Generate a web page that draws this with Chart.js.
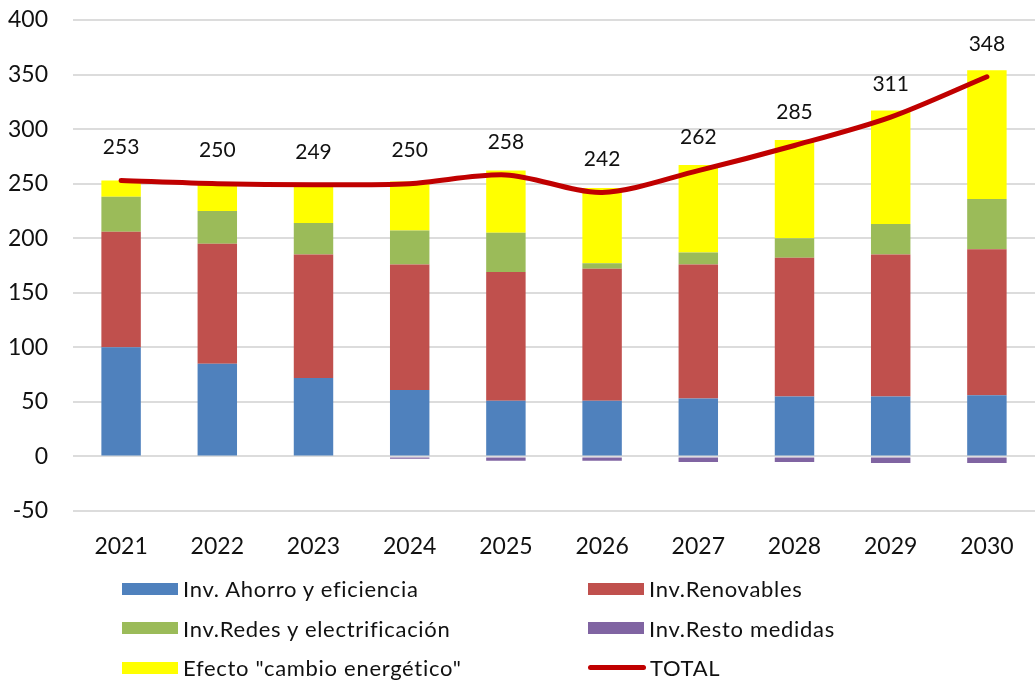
<!DOCTYPE html>
<html>
<head>
<meta charset="utf-8">
<script src="https://cdn.jsdelivr.net/npm/chart.js@4/dist/chart.umd.min.js"></script>
<style>
  html, body { margin: 0; padding: 0; background: #ffffff; }
  #wrap { position: relative; width: 1035px; height: 682px; overflow: hidden; }
  #c { position: absolute; left: 0; top: 0; }
  #legend { position: absolute; left: 122px; top: 569px; width: 900px;
    display: grid; grid-template-columns: 466px 400px;
    font-family: Lato, "Liberation Sans", sans-serif; font-size: 22px; letter-spacing: 0.7px; color: #111; }
  .item { display: flex; align-items: center; height: 39.5px; }
  .sw { width: 56px; height: 12px; margin-right: 5px; flex: none; }
  .ln { width: 58px; height: 5px; border-radius: 3px; margin-right: 4px; flex: none; }
</style>
</head>
<body>
<div id="wrap">
  <canvas id="c" width="1035" height="570"></canvas>
  <div id="legend"></div>
</div>
<script>
const years = ["2021","2022","2023","2024","2025","2026","2027","2028","2029","2030"];
const ahorro   = [100, 85, 72, 61, 51, 51, 53, 55, 55, 56];
const renov    = [106, 110, 113, 115, 118, 121, 123, 127, 130, 134];
const redes    = [32, 30, 29, 31, 36, 5, 11, 18, 28, 46];
const resto    = [0, 0, 0, -2, -4, -4, -5, -5, -6, -6];
const efecto   = [15, 25, 35, 45, 57, 69, 80, 90, 104, 118];
const total    = [253, 250, 249, 250, 258, 242, 262, 285, 311, 348];
const yTicks   = { min: -50, max: 400, step: 50 };

const seriesNames = ["Inv. Ahorro y eficiencia", "Inv.Renovables", "Inv.Redes y electrificación", "Inv.Resto medidas", "Efecto \"cambio energético\"", "TOTAL"];
const colors = ["#4F81BD", "#C0504D", "#9BBB59", "#8064A2", "#FFFF00", "#C00000"];

const barCommon = { type: 'bar', stack: 's', order: 1, barPercentage: 0.41, categoryPercentage: 1.0, borderWidth: 0 };

const datasets = [
  Object.assign({ label: seriesNames[0], data: ahorro, backgroundColor: colors[0] }, barCommon),
  Object.assign({ label: seriesNames[1], data: renov, backgroundColor: colors[1] }, barCommon),
  Object.assign({ label: seriesNames[2], data: redes, backgroundColor: colors[2] }, barCommon),
  Object.assign({ label: seriesNames[3], data: resto, backgroundColor: colors[3] }, barCommon),
  Object.assign({ label: seriesNames[4], data: efecto, backgroundColor: colors[4] }, barCommon),
  { type: 'line', label: seriesNames[5], data: total, borderColor: colors[5], backgroundColor: colors[5],
    borderWidth: 5, pointRadius: 0, tension: 0.3, order: 0, borderCapStyle: 'round', borderJoinStyle: 'round' }
];

const FONT = 'Lato, "Liberation Sans", sans-serif';

const totalLabels = {
  id: 'totalLabels',
  afterDatasetsDraw(chart) {
    const ctx = chart.ctx;
    const idx = chart.data.datasets.length - 1;
    const meta = chart.getDatasetMeta(idx);
    ctx.save();
    ctx.font = '21px ' + FONT;
    ctx.fillStyle = '#111';
    ctx.textAlign = 'center';
    ctx.textBaseline = 'middle';
    meta.data.forEach((pt, i) => {
      ctx.fillText(String(chart.data.datasets[idx].data[i]), pt.x, pt.y - 33);
    });
    ctx.restore();
  }
};

new Chart(document.getElementById('c'), {
  data: { labels: years, datasets: datasets },
  options: {
    responsive: false,
    animation: false,
    layout: { padding: { left: 0, right: 0, top: 20, bottom: 0 } },
    plugins: { legend: { display: false }, tooltip: { enabled: false } },
    scales: {
      x: {
        stacked: true,
        grid: { display: false, drawTicks: false },
        border: { display: false },
        ticks: { font: { family: FONT, size: 23 }, color: '#111', padding: 22 },
        afterFit: s => { s.height = 59; s.paddingLeft = 0; s.paddingRight = 0; }
      },
      y: {
        stacked: true,
        min: yTicks.min, max: yTicks.max,
        grid: { color: '#dcdcdc', lineWidth: 2, drawTicks: false },
        border: { display: false },
        ticks: { stepSize: yTicks.step, font: { family: FONT, size: 23 }, color: '#111', padding: 25 },
        afterFit: s => { s.width = 73; s.paddingTop = 0; s.paddingBottom = 0; }
      }
    }
  },
  plugins: [totalLabels]
});

const leg = document.getElementById('legend');
seriesNames.forEach((name, i) => {
  const it = document.createElement('div');
  it.className = 'item';
  const sw = document.createElement('span');
  sw.className = i === 5 ? 'ln' : 'sw';
  sw.style.background = colors[i];
  const tx = document.createElement('span');
  tx.textContent = name;
  it.appendChild(sw); it.appendChild(tx);
  leg.appendChild(it);
});
</script>
</body>
</html>
